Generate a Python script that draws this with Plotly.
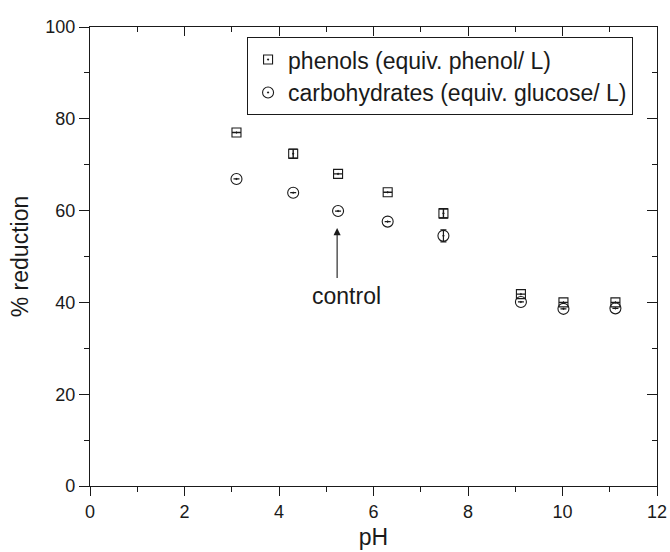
import plotly.graph_objects as go

ph = [3.1, 4.3, 5.25, 6.3, 7.48, 9.12, 10.02, 11.12]
phenols = [77.0, 72.4, 68.0, 64.0, 59.4, 41.8, 40.0, 40.0]
phenols_err = [None, 1.0, None, None, 1.0, None, None, None]
carbs = [66.9, 63.9, 59.9, 57.6, 54.5, 40.1, 38.6, 38.7]
carbs_err = [None, None, None, None, 1.3, None, None, None]

FONT = "Liberation Sans, Arial, sans-serif"
INK = "#1a1a1a"

fig = go.Figure()
fig.add_trace(go.Scatter(
    x=ph, y=phenols, mode="markers", name="phenols (equiv. phenol/ L)",
    marker=dict(symbol="square-open-dot", size=9, color=INK, line=dict(width=1.1, color=INK)),
    error_y=dict(type="data", array=phenols_err, color=INK, thickness=1.4, width=4.5),
))
fig.add_trace(go.Scatter(
    x=ph, y=carbs, mode="markers", name="carbohydrates (equiv. glucose/ L)",
    marker=dict(symbol="circle-open-dot", size=11, color=INK, line=dict(width=1.1, color=INK)),
    error_y=dict(type="data", array=carbs_err, color=INK, thickness=1.2, width=3),
))
# invisible trace to activate mirrored axes
fig.add_trace(go.Scatter(x=[None], y=[None], xaxis="x2", yaxis="y2", showlegend=False, hoverinfo="skip"))

fig.add_annotation(x=5.23, y=56.2, ax=5.23, ay=45, xref="x", yref="y", axref="x", ayref="y",
                   text="", showarrow=True, arrowhead=2, arrowsize=1.3, arrowwidth=1.1, arrowcolor=INK)
fig.add_annotation(x=5.43, y=41.4, xref="x", yref="y", text="control", showarrow=False,
                   font=dict(family=FONT, size=23, color=INK))

axis_common = dict(showline=True, linecolor=INK, linewidth=1.3, showgrid=False, zeroline=False,
                   tickcolor=INK, tickwidth=1.2, automargin=False,
                   tickfont=dict(family=FONT, size=18, color=INK))

fig.update_layout(
    width=670, height=552,
    margin=dict(l=90, r=13, t=27, b=66),
    paper_bgcolor="white", plot_bgcolor="white",
    font=dict(family=FONT, color=INK),
    xaxis=dict(range=[0, 12], dtick=2, tick0=0, ticks="outside", ticklen=9,
               minor=dict(dtick=1, ticks="outside", ticklen=5, tickcolor=INK, tickwidth=1.2),
               title=dict(text="pH", font=dict(family=FONT, size=23, color=INK), standoff=8),
               **axis_common),
    yaxis=dict(range=[0, 100], dtick=20, tick0=0, ticks="outside", ticklen=10,
               minor=dict(dtick=10, ticks="outside", ticklen=5, tickcolor=INK, tickwidth=1.2),
               title=dict(text="% reduction", font=dict(family=FONT, size=23, color=INK), standoff=10),
               **axis_common),
    xaxis2=dict(range=[0, 12], dtick=2, tick0=0, ticks="inside", ticklen=9, overlaying="x", side="top",
                showticklabels=False,
                minor=dict(dtick=1, ticks="inside", ticklen=5, tickcolor=INK, tickwidth=1.2),
                **axis_common),
    yaxis2=dict(range=[0, 100], dtick=20, tick0=0, ticks="inside", ticklen=10, overlaying="y", side="right",
                showticklabels=False,
                minor=dict(dtick=10, ticks="inside", ticklen=5, tickcolor=INK, tickwidth=1.2),
                **axis_common),
    legend=dict(x=0.277, y=0.978, xanchor="left", yanchor="top", bgcolor="white",
                bordercolor=INK, borderwidth=1, font=dict(family=FONT, size=23, color=INK),
                tracegroupgap=0, itemsizing="trace"),
    showlegend=True,
)

fig.write_html("out.html", config={"displayModeBar": False},
               post_script="document.body.style.margin='0px';")
